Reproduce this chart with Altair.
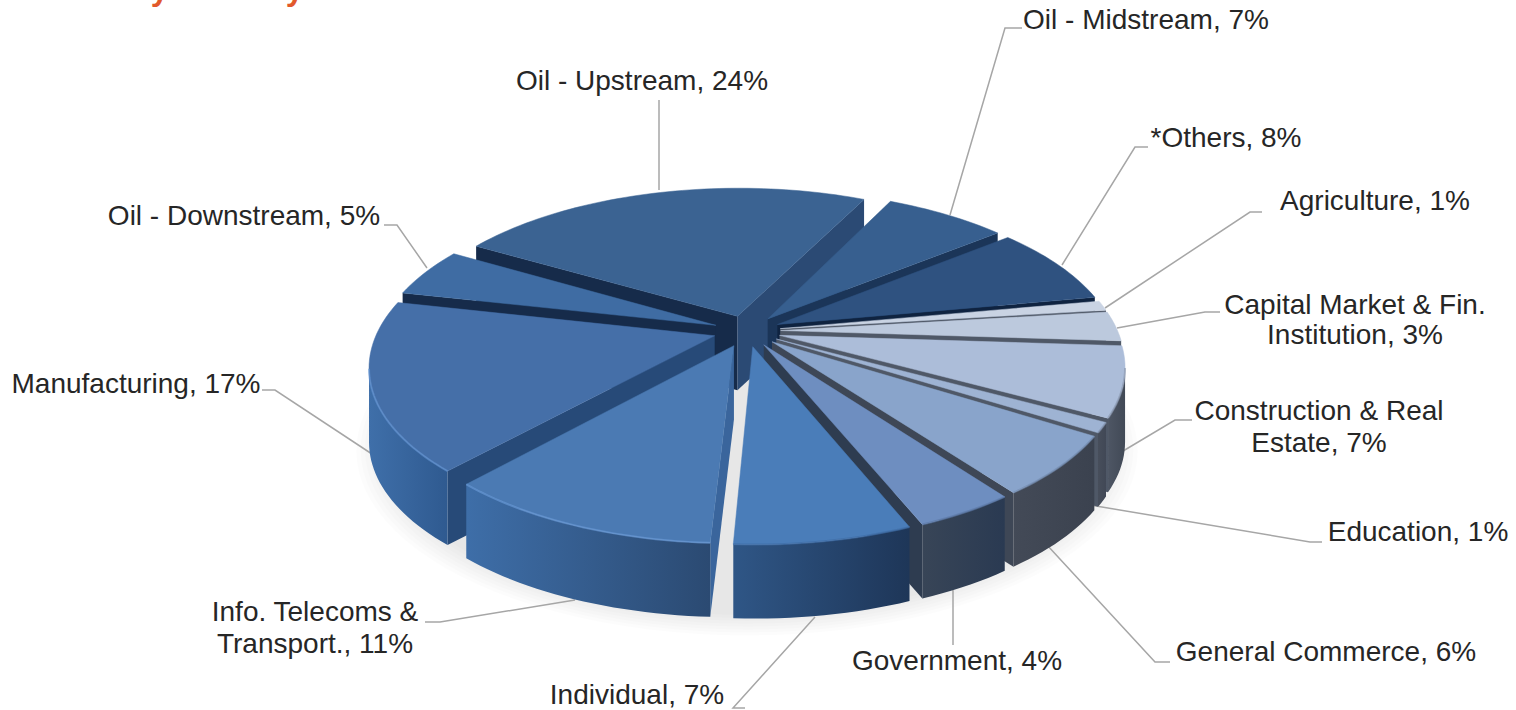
import math
import altair as alt

W, H = 1516, 710

# Portfolio shares, clockwise from the right edge of the upstream slice
sectors = ["Oil - Midstream", "*Others", "Agriculture", "Capital Market & Fin. Institution",
           "Construction & Real Estate", "Education", "General Commerce", "Government",
           "Individual", "Info. Telecoms & Transport.", "Manufacturing", "Oil - Downstream",
           "Oil - Upstream"]
shares = [7, 8, 1, 3, 7, 1, 6, 4, 7, 11, 17, 5, 24]

top_colors = ["#375F8F", "#2F5280", "#C9D3E3", "#BCC9DD", "#ACBDD9", "#9EB3D3", "#89A4CB",
              "#6E8EC0", "#4A7DB9", "#4B7AB3", "#456FA8", "#3F6CA3", "#3B6392"]
rim_left = ["#2F5280", "#2F5280", "#5A6270", "#505865", "#4E5664", "#474E5B", "#434A57",
            "#384557", "#2F5686", "#3E6EA8", "#3F6FA9", "#3F6CA3", "#3B6392"]
rim_right = ["#2F5280", "#2F5280", "#5A6270", "#505865", "#414956", "#414856", "#3B424F",
             "#2A3A52", "#1E3658", "#2B4A72", "#2F5A90", "#3F6CA3", "#3B6392"]
start_wall = ["#2B4A74", "#1B3558", "#4F5867", "#4F5867", "#4F5867", "#4F5867", "#3E4756",
              "#2E3C50", "#2B4A74", "#3A659C", "#274A78", "#162B4A", "#162B4A"]
end_wall = ["#1B3558", "#0F2340", "#4F5867", "#4F5867", "#4F5867", "#4F5867", "#3E4756",
            "#2E3C50", "#2B4A74", "#3A659C", "#274A78", "#162B4A", "#2B4A74"]
highlight = ["#375F8F", "#2F5280", "#C9D3E3", "#9AA5B8", "#8794AB", "#7F8EA8", "#7288AC",
             "#5A76A3", "#3D6BA3", "#6C9CDA", "#6496D6", "#3F6CA3", "#3B6392"]

# Text rows: line, centre x, centre y
label_lines = ["Oil - Midstream, 7%", "*Others, 8%", "Agriculture, 1%", "Capital Market & Fin.",
               "Institution, 3%", "Construction & Real", "Estate, 7%", "Education, 1%",
               "General Commerce, 6%", "Government, 4%", "Individual, 7%", "Info. Telecoms &",
               "Transport., 11%", "Manufacturing, 17%", "Oil - Downstream, 5%", "Oil - Upstream, 24%"]
label_cx = [1146, 1226, 1375, 1355, 1355, 1319, 1319, 1418, 1326, 957, 637, 315, 315, 136, 244, 642]
label_cy = [21, 139, 202, 306, 336, 412, 444, 533, 653, 662, 696, 613, 645, 385, 217, 82]

# Leader lines from each label to its slice
leaders = [
    [(1022, 28), (1005, 28), (950, 215)],
    [(1148, 147), (1135, 147), (1062, 265)],
    [(1262, 212), (1250, 212), (1105, 308)],
    [(1220, 312), (1205, 312), (1117, 328)],
    [(1192, 420), (1175, 420), (1113, 457)],
    [(1322, 542), (1310, 542), (1090, 505)],
    [(1170, 662), (1155, 662), (1047, 545)],
    [(953, 645), (953, 590)],
    [(745, 708), (733, 708), (815, 617)],
    [(425, 622), (440, 622), (575, 600)],
    [(262, 390), (275, 390), (378, 458)],
    [(384, 225), (397, 225), (427, 268)],
    [(659, 100), (659, 190)],
]

# Perspective disc geometry
CX, CY = 747, 331
RX, RY = 337, 156
PERSP = 0.18
DEPTH = 74
EXPLODE = 0.1
START_DEG = 26


def project(u, v, drop=0.0):
    s = 1 / (1 - PERSP * v)
    return [CX + RX * u * s, CY + RY * v * s + drop]


def polar(theta_deg, r=1.0, ox=0.0, oy=0.0):
    t = math.radians(theta_deg)
    return ox + r * math.sin(t), oy - r * math.cos(t)


def feature(kind, coords):
    return {"type": "Feature", "properties": {}, "geometry": {"type": kind, "coordinates": coords}}


def shape(kind, coords, **mark):
    return alt.Chart(alt.Data(values=[feature(kind, coords)])).mark_geoshape(**mark)


def h_gradient(left, right):
    return alt.LinearGradient(
        gradient="linear", x1=0, x2=1, y1=0, y2=0,
        stops=[alt.GradientStop(color=left, offset=0), alt.GradientStop(color=right, offset=1)],
    )


# Slice spans, back of the pie first
total = sum(shares)
spans = []
angle = START_DEG
for i, share in enumerate(shares):
    sweep = share / total * 360
    spans.append((angle, angle + sweep, i))
    angle += sweep
spans.sort(key=lambda sp: -math.cos(math.radians((sp[0] + sp[1]) / 2)))

layers = []

# Soft drop shadow beneath the front of the pie
for step in range(8):
    grow = 1.135 - step * 0.012
    hole = 0.62 + step * 0.025
    outer = [project(*polar(d * 3, grow), DEPTH + 8) for d in range(121)]
    inner = [project(*polar(d * 3, hole), DEPTH + 4) for d in range(121)]
    layers.append(shape("Polygon", [outer, inner], fill="#000000", fillOpacity=0.012,
                        strokeWidth=0, stroke="transparent"))

for path in leaders:
    layers.append(shape("LineString", [list(p) for p in path], filled=False,
                        stroke="#A6A6A6", strokeWidth=1.5))

for a0, a1, i in spans:
    mid = (a0 + a1) / 2
    ox, oy = polar(mid, EXPLODE)
    n = max(3, int((a1 - a0) / 1.5))
    rim_uv = [polar(a0 + (a1 - a0) * k / n, 1.0, ox, oy) for k in range(n + 1)]
    rim = [project(u, v) for u, v in rim_uv]
    tip = project(ox, oy)

    # The slice edges that face the viewer
    first, last = rim[0], rim[-1]
    if first[0] < tip[0]:
        quad = [tip, first, [first[0], first[1] + DEPTH], [tip[0], tip[1] + DEPTH], tip]
        layers.append(shape("Polygon", [quad], fill=start_wall[i], stroke="transparent", strokeWidth=0))
    if tip[0] < last[0]:
        quad = [last, tip, [tip[0], tip[1] + DEPTH], [last[0], last[1] + DEPTH], last]
        layers.append(shape("Polygon", [quad], fill=end_wall[i], stroke="transparent", strokeWidth=0))

    # Outer wall, only along the arc running towards the front
    front = [p for j, p in enumerate(rim)
             if (j + 1 < len(rim) and rim[j + 1][0] < p[0]) or (j > 0 and p[0] < rim[j - 1][0])]
    if len(front) > 1:
        low = [[p[0], p[1] + DEPTH] for p in reversed(front)]
        layers.append(shape("Polygon", [front + low + [front[0]]],
                            fill=h_gradient(rim_left[i], rim_right[i]),
                            stroke="transparent", strokeWidth=0))

    layers.append(shape("Polygon", [[tip] + rim + [tip]], fill=top_colors[i],
                        stroke=top_colors[i], strokeWidth=0.5))
    if len(front) > 1:
        layers.append(shape("LineString", front, filled=False, stroke=highlight[i],
                            strokeWidth=2, strokeOpacity=0.6))

labels = alt.Chart(alt.Data(values=[
    {"t": t, "x": x, "y": y} for t, x, y in zip(label_lines, label_cx, label_cy)
])).mark_text(font="Liberation Sans", fontSize=28, color="#262626", align="center",
              baseline="middle").encode(longitude="x:Q", latitude="y:Q", text="t:N")

title = alt.Chart(alt.Data(values=[{"t": "Loans by Industry", "x": 28, "y": 0}])).mark_text(
    font="Liberation Sans", fontSize=32, fontWeight="bold", color="#E2592B", align="left",
    baseline="alphabetic").encode(longitude="x:Q", latitude="y:Q", text="t:N")

chart = (
    alt.layer(*layers, labels, title)
    .project(type="identity", scale=1, translate=[0, 0])
    .properties(width=W, height=H, padding=0, autosize=alt.AutoSizeParams(type="none"))
    .configure_view(stroke=None)
    .configure(background="white")
)

chart.save("out.html", embed_options={"renderer": "svg", "actions": False})
